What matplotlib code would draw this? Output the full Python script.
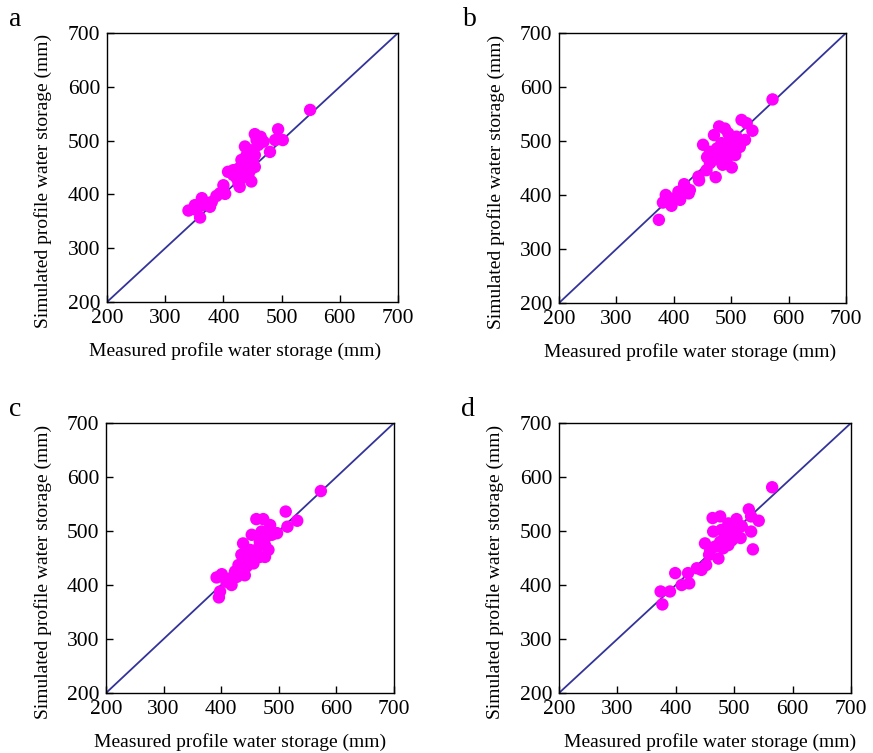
import matplotlib
matplotlib.use("Agg")
import matplotlib.pyplot as plt

plt.rcParams['font.family'] = ['Liberation Serif', 'DejaVu Serif']

# Panel a
a_meas = [549, 340, 360, 351, 363, 371, 380, 388, 400, 403, 394, 408, 417, 426, 428, 448,
          437, 454, 464, 460, 480, 489, 494, 502, 446, 440, 451, 423, 434, 443, 431, 448,
          454, 457, 440, 426, 377, 354, 365, 431, 446, 417, 469, 454]
a_sim = [557, 370, 357, 380, 393, 383, 386, 397, 417, 401, 402, 442, 445, 448, 414, 424,
         489, 512, 507, 492, 479, 501, 521, 501, 470, 455, 461, 430, 432, 436, 464, 482,
         473, 501, 473, 420, 377, 371, 380, 445, 445, 436, 498, 451]

# Panel b
b_meas = [572, 374, 386, 381, 396, 393, 408, 411, 418, 426, 428, 443, 444, 451, 457, 473,
          458, 463, 470, 479, 489, 483, 475, 486, 495, 501, 485, 507, 498, 509, 518, 527,
          537, 524, 515, 504, 492, 463, 472, 480, 512, 495, 469]
b_sim = [577, 354, 400, 386, 380, 394, 406, 391, 420, 403, 409, 434, 427, 493, 446, 433,
         470, 480, 511, 527, 523, 496, 486, 474, 483, 451, 456, 474, 505, 508, 539, 533,
         519, 502, 489, 493, 462, 459, 471, 483, 499, 514, 465]

# Panel c
c_meas = [573, 396, 398, 392, 401, 418, 415, 424, 430, 441, 444, 435, 438, 453, 461, 473,
          485, 497, 512, 515, 532, 479, 467, 482, 476, 459, 450, 461, 470, 456, 427, 409,
          447, 488, 467, 476]
c_sim = [574, 377, 388, 414, 420, 400, 412, 425, 437, 418, 434, 456, 477, 493, 522, 522,
         511, 496, 536, 508, 519, 490, 480, 465, 452, 449, 465, 465, 499, 440, 415, 406,
         449, 493, 452, 474]

# Panel d
d_meas = [565, 377, 374, 390, 399, 410, 421, 423, 436, 444, 452, 450, 457, 473, 463, 476,
          464, 490, 504, 513, 525, 529, 542, 529, 532, 511, 496, 484, 476, 490, 467, 481,
          501, 478, 459, 496]
d_sim = [581, 364, 388, 388, 422, 400, 422, 403, 431, 428, 437, 477, 456, 449, 524, 527,
         499, 514, 522, 509, 540, 527, 519, 499, 466, 487, 502, 490, 480, 474, 471, 468,
         493, 502, 465, 483]

panel_labels = ['a', 'b', 'c', 'd']
ticks = [200, 300, 400, 500, 600, 700]
xlabel = 'Measured profile water storage (mm)'
ylabel = 'Simulated profile water storage (mm)'

W, H = 873, 753
fig = plt.figure(figsize=(W / 100, H / 100), dpi=100)

# axes boxes in pixels: left, top, right, bottom
boxes = [(107, 33, 398, 302), (559, 33, 846, 303), (106, 423, 394, 693), (559, 423, 851, 693)]
letter_pos = [(15, 20), (470, 20), (15, 410), (468, 410)]
xlab_center = [235, 690, 240, 710]

datasets = [(a_meas, a_sim), (b_meas, b_sim), (c_meas, c_sim), (d_meas, d_sim)]

for i, ((l, t, r, b), (mx, sy)) in enumerate(zip(boxes, datasets)):
    ax = fig.add_axes([l / W, 1 - b / H, (r - l) / W, (b - t) / H])
    ax.plot([200, 700], [200, 700], color='#333399', lw=1.3, zorder=1)
    ax.scatter(mx, sy, s=80, color='#ff00ff', edgecolors='none', zorder=2)
    ax.set_xlim(200, 700)
    ax.set_ylim(200, 700)
    ax.set_xticks(ticks)
    ax.set_yticks(ticks)
    ax.tick_params(direction='in', length=5, width=1, labelsize=15.5, pad=5,
                   top=False, right=False)
    for sp in ax.spines.values():
        sp.set_linewidth(1.0)
    ax.set_xlabel(xlabel, fontsize=14)
    ax.set_ylabel(ylabel, fontsize=14)
    ax.xaxis.set_label_coords((xlab_center[i] - l) / (r - l), -0.15)
    ax.yaxis.set_label_coords(-0.188, 0.45)
    fig.text(letter_pos[i][0] / W, 1 - letter_pos[i][1] / H, panel_labels[i],
             fontsize=20, ha='center', va='center')

fig.savefig('out.png', dpi=100)
